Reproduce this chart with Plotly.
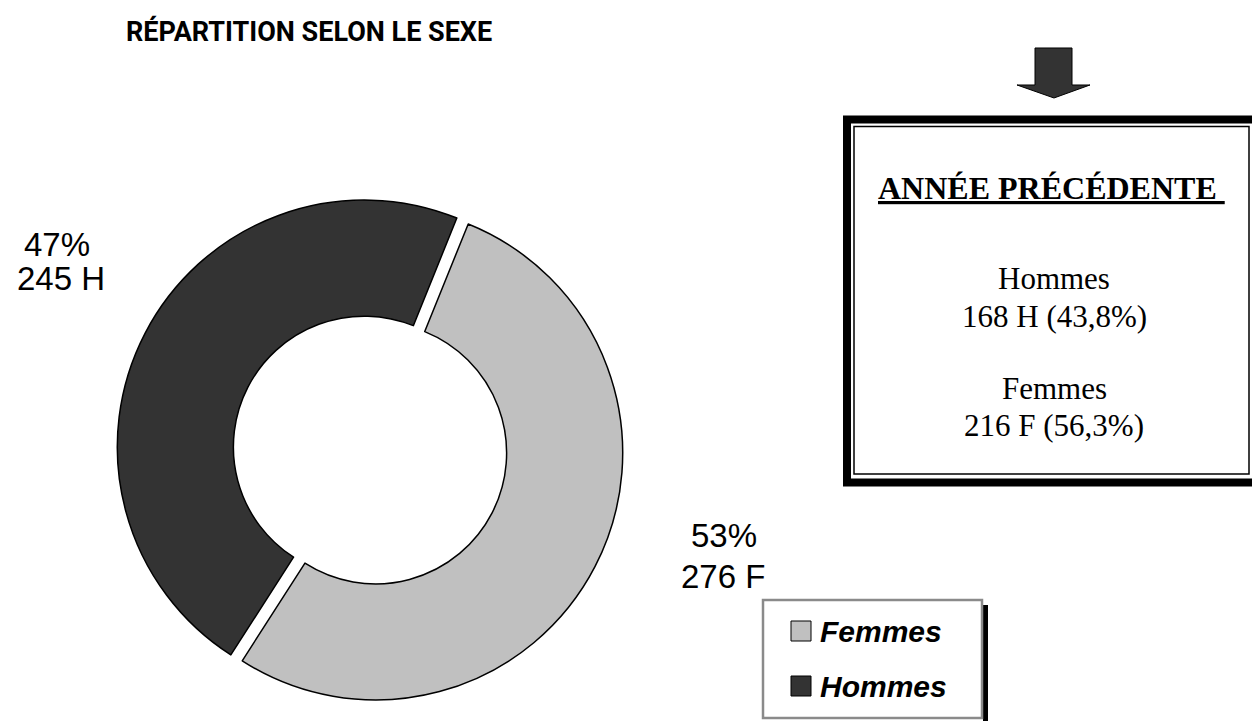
import plotly.graph_objects as go

# ---- data ----
categories = ["Femmes", "Hommes"]
values = [276, 245]
abbrev = ["F", "H"]
colors = ["#C0C0C0", "#333333"]

prev_categories = ["Hommes", "Femmes"]
prev_counts = [168, 216]
prev_abbrev = ["H", "F"]
prev_pct = [43.8, 56.3]

title_text = "RÉPARTITION SELON LE SEXE"
box_title = "ANNÉE PRÉCÉDENTE"

W, H = 1252, 721


def px(x):
    return x / W


def py(y):
    return 1 - y / H


total = sum(values)
pcts = [round(v / total * 100) for v in values]

# pie geometry (pixels): radius r, pull p -> domain half-size r*(1+p)
cx, cy, r, p = 370, 450, 247, 0.026
half_box = r * (1 + p)
pie_dom_x = [px(cx - half_box), px(cx + half_box)]
pie_dom_y = [py(cy + half_box), py(cy - half_box)]

fig = go.Figure()
fig.add_trace(go.Pie(
    labels=categories,
    values=values,
    sort=False,
    direction="clockwise",
    rotation=22,
    hole=0.53,
    pull=[p, p],
    marker=dict(colors=colors, line=dict(color="black", width=1.5)),
    textinfo="none",
    showlegend=False,
    domain=dict(x=pie_dom_x, y=pie_dom_y),
))

shapes = []
annotations = []

SANS = "Liberation Sans, Arial"
TITLE_FONT = "Roboto, Liberation Sans, Arial"
SERIF = "Liberation Serif, Times New Roman"

# title
annotations.append(dict(x=px(309), y=py(32), xref="paper", yref="paper",
                        text=f"<b>{title_text}</b>", showarrow=False,
                        xanchor="center", yanchor="middle",
                        font=dict(family=TITLE_FONT, size=27, color="black")))

# slice labels (two lines each)
label_pos = {"Femmes": [(724, 535), (723, 576)], "Hommes": [(57, 244), (61, 278)]}
for cat, v, pc, a in zip(categories, values, pcts, abbrev):
    (x1, y1), (x2, y2) = label_pos[cat]
    for txt, lx, ly in [(f"{pc}%", x1, y1), (f"{v} {a}", x2, y2)]:
        annotations.append(dict(x=px(lx), y=py(ly), xref="paper", yref="paper",
                                text=txt, showarrow=False,
                                xanchor="center", yanchor="middle",
                                font=dict(family=SANS, size=33, color="black")))

# manual legend box with shadow
shapes.append(dict(type="rect", xref="paper", yref="paper",
                   x0=px(983), x1=px(988), y0=py(605), y1=py(725),
                   fillcolor="black", line=dict(width=0)))
shapes.append(dict(type="rect", xref="paper", yref="paper",
                   x0=px(763), x1=px(982), y0=py(600), y1=py(718),
                   fillcolor="white", line=dict(color="#8a8a8a", width=2.5)))
leg_y = [631, 686]
for cat, col, ly in zip(categories, colors, leg_y):
    shapes.append(dict(type="rect", xref="paper", yref="paper",
                       x0=px(791), x1=px(811), y0=py(ly - 10), y1=py(ly + 10),
                       fillcolor=col, line=dict(color="black", width=1)))
    annotations.append(dict(x=px(818), y=py(ly), xref="paper", yref="paper",
                            text=f"<b><i>{cat}</i></b>", showarrow=False,
                            xanchor="left", yanchor="middle",
                            font=dict(family=SANS, size=30, color="black")))

# arrow
arrow = [(1035, 48), (1072, 48), (1072, 85), (1090, 85), (1054, 98), (1017, 85), (1035, 85)]
path = "M " + " L ".join(f"{px(x):.5f},{py(y):.5f}" for x, y in arrow) + " Z"
shapes.append(dict(type="path", xref="paper", yref="paper", path=path,
                   fillcolor="#333333", line=dict(color="black", width=1)))

# previous year box (double frame)
shapes.append(dict(type="rect", xref="paper", yref="paper",
                   x0=px(847), x1=px(1262), y0=py(119.5), y1=py(482.5),
                   fillcolor="white", line=dict(color="black", width=8)))
shapes.append(dict(type="rect", xref="paper", yref="paper",
                   x0=px(854), x1=px(1249), y0=py(126.5), y1=py(474),
                   fillcolor="rgba(0,0,0,0)", line=dict(color="black", width=1.5)))

annotations.append(dict(x=px(1051), y=py(188), xref="paper", yref="paper",
                        text=f"<b><u>{box_title}&nbsp;</u></b>", showarrow=False,
                        xanchor="center", yanchor="middle",
                        font=dict(family=SERIF, size=32, color="black")))
prev_y = [(278, 316), (388, 426)]
for cat, n, a, pp, (y1, y2) in zip(prev_categories, prev_counts, prev_abbrev, prev_pct, prev_y):
    pstr = f"{pp:.1f}".replace(".", ",")
    annotations.append(dict(x=px(1054), y=py(y1), xref="paper", yref="paper",
                            text=cat, showarrow=False, xanchor="center", yanchor="middle",
                            font=dict(family=SERIF, size=31, color="black")))
    annotations.append(dict(x=px(1054), y=py(y2), xref="paper", yref="paper",
                            text=f"{n} {a} ({pstr}%)", showarrow=False, xanchor="center", yanchor="middle",
                            font=dict(family=SERIF, size=31, color="black")))

fig.update_layout(
    width=W, height=H,
    margin=dict(l=0, r=0, t=0, b=0),
    paper_bgcolor="white", plot_bgcolor="white",
    shapes=shapes, annotations=annotations,
    showlegend=False,
)

fig.write_html("out.html",
               config={"displayModeBar": False},
               post_script="document.body.style.margin='0';document.body.style.overflow='hidden';")
